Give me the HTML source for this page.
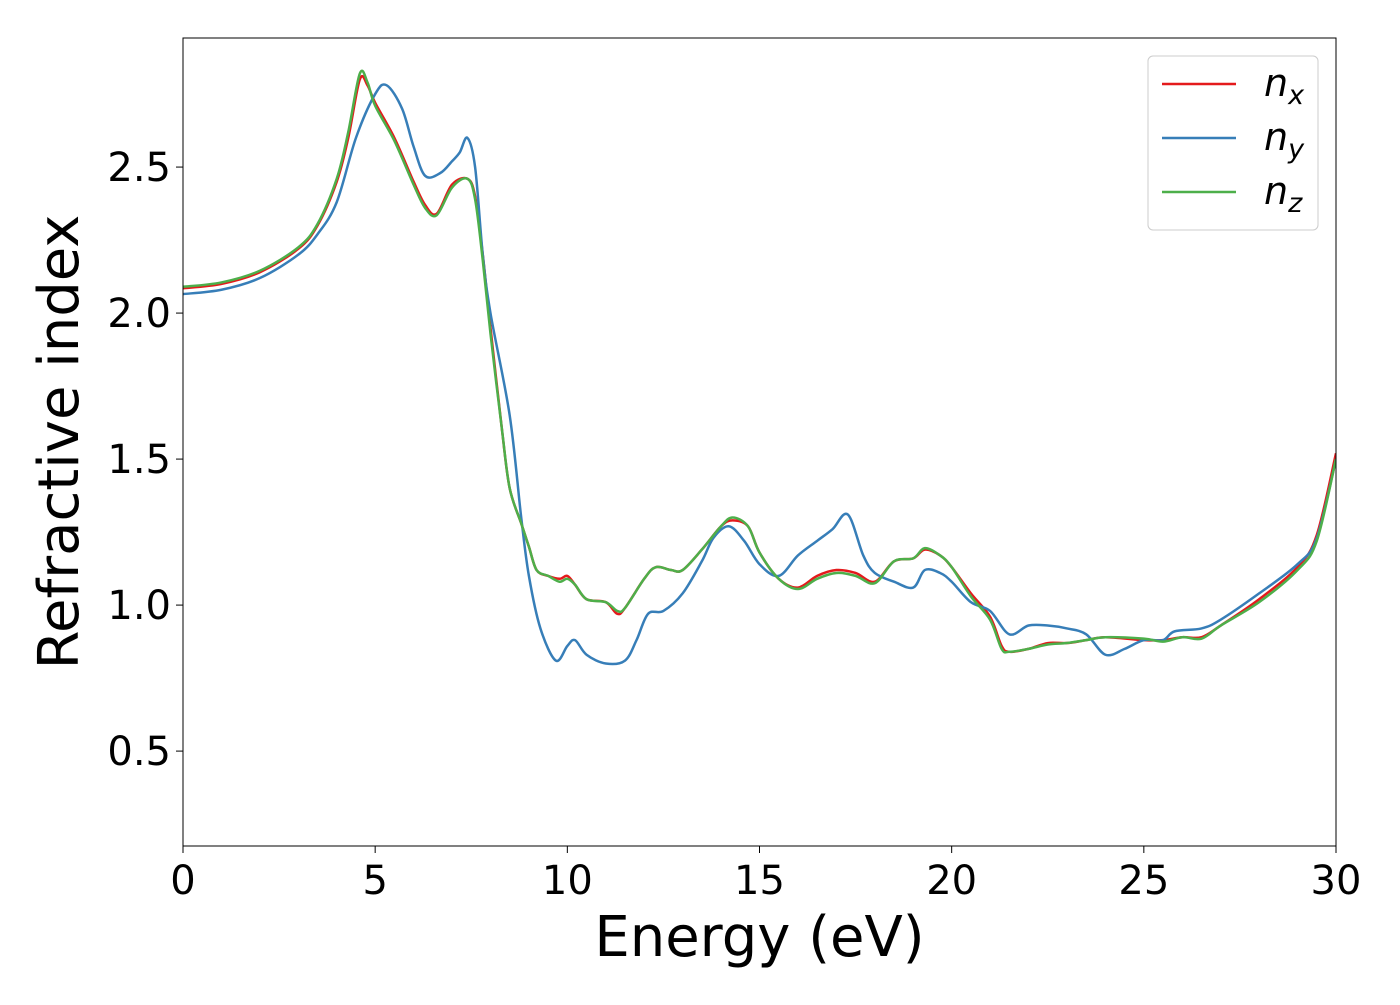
<!DOCTYPE html>
<html><head><meta charset="utf-8"><style>
body{margin:0;background:#fff;}
svg text{font-family:"DejaVu Sans","Liberation Sans",sans-serif;fill:#000;}
</style></head><body>
<svg id="chart" width="1400" height="1000" xmlns="http://www.w3.org/2000/svg">
<g id="plot"></g>
</svg>
<script>
const xsX=[0,1,2,3,3.5,4,4.3,4.6,4.8,5,5.5,6,6.3,6.6,7,7.4,7.6,7.8,8,8.3,8.5,8.8,9,9.2,9.5,9.8,10,10.2,10.5,11,11.3,11.5,12,12.3,12.7,13,13.5,14,14.3,14.7,15,15.5,16,16.5,17,17.5,18,18.5,19,19.3,19.7,20,20.5,21,21.3,21.5,22,22.5,23,23.5,24,25,25.5,26,26.5,27,28,29,29.5,30];
const nxVals=[2.085,2.10,2.14,2.22,2.30,2.45,2.6,2.8,2.78,2.72,2.6,2.45,2.37,2.34,2.44,2.46,2.4,2.2,1.95,1.6,1.4,1.28,1.2,1.12,1.1,1.09,1.1,1.07,1.02,1.01,0.97,0.99,1.09,1.13,1.12,1.12,1.19,1.27,1.29,1.27,1.18,1.09,1.06,1.10,1.12,1.11,1.08,1.15,1.16,1.19,1.17,1.13,1.04,0.96,0.86,0.84,0.85,0.87,0.87,0.88,0.89,0.88,0.88,0.89,0.89,0.93,1.02,1.13,1.24,1.52];
const nzVals=[2.09,2.105,2.145,2.225,2.305,2.46,2.62,2.82,2.79,2.71,2.59,2.44,2.36,2.335,2.43,2.46,2.39,2.18,1.93,1.6,1.4,1.28,1.2,1.12,1.1,1.08,1.09,1.07,1.02,1.01,0.98,0.99,1.09,1.13,1.12,1.12,1.19,1.27,1.30,1.27,1.18,1.09,1.055,1.09,1.11,1.10,1.075,1.15,1.16,1.195,1.17,1.13,1.03,0.95,0.85,0.84,0.85,0.865,0.87,0.88,0.89,0.885,0.875,0.89,0.885,0.93,1.01,1.12,1.22,1.50];
const xsY=[0,1,2,3,3.5,4,4.5,5,5.3,5.7,6,6.3,6.7,7,7.2,7.4,7.6,7.8,8,8.5,8.8,9,9.3,9.7,10,10.2,10.5,11,11.5,11.8,12.1,12.5,13,13.5,13.8,14.2,14.6,15,15.5,16,16.5,16.9,17.3,17.7,18,18.5,19,19.3,19.7,20,20.5,21,21.5,22,22.5,23,23.5,24,24.5,25,25.5,25.8,26.5,27,28,29,29.5,30];
const nyVals=[2.065,2.08,2.12,2.2,2.27,2.38,2.6,2.75,2.78,2.7,2.57,2.47,2.48,2.52,2.55,2.6,2.5,2.2,2.0,1.65,1.3,1.1,0.92,0.81,0.86,0.88,0.83,0.80,0.81,0.88,0.97,0.98,1.04,1.15,1.23,1.27,1.22,1.14,1.1,1.17,1.22,1.26,1.31,1.17,1.11,1.08,1.06,1.12,1.11,1.08,1.01,0.98,0.90,0.93,0.93,0.92,0.90,0.83,0.85,0.88,0.88,0.91,0.92,0.95,1.04,1.14,1.23,1.5];
const xTicks=[0,5,10,15,20,25,30];
const yTicks=[0.5,1.0,1.5,2.0,2.5];
const L=183,R=1336,T=38,B=846;
const sx=v=>L+(v-0)*(R-L)/30;
const sy=v=>B-(v-0.175)*(B-T)/(2.942-0.175);
const NS="http://www.w3.org/2000/svg";
const g=document.getElementById('plot');
function el(tag,attrs,parent){const e=document.createElementNS(NS,tag);for(const k in attrs)e.setAttribute(k,attrs[k]);(parent||g).appendChild(e);return e;}
function path(xs,ys){const p=xs.map((x,i)=>[sx(x),sy(ys[i])]);let d='M'+p[0][0]+','+p[0][1];
for(let i=0;i<p.length-1;i++){const p0=p[Math.max(0,i-1)],p1=p[i],p2=p[i+1],p3=p[Math.min(p.length-1,i+2)];
const c1=[p1[0]+(p2[0]-p0[0])/6,p1[1]+(p2[1]-p0[1])/6],c2=[p2[0]-(p3[0]-p1[0])/6,p2[1]-(p3[1]-p1[1])/6];
d+=` C${c1[0]},${c1[1]} ${c2[0]},${c2[1]} ${p2[0]},${p2[1]}`;}return d;}
const clip=el('clipPath',{id:'c'});el('rect',{x:L,y:T,width:R-L,height:B-T},clip);
const series=[[xsX,nxVals,'#e41a1c','series-nx'],[xsY,nyVals,'#377eb8','series-ny'],[xsX,nzVals,'#4daf4a','series-nz']];
series.forEach(s=>{const e=el('path',{d:path(s[0],s[1]),fill:'none',stroke:s[2],'stroke-width':2.5,'clip-path':'url(#c)'});

});
const frame=el('rect',{x:L,y:T,width:R-L,height:B-T,fill:'none',stroke:'#000','stroke-width':1});


xTicks.forEach(v=>{el('line',{x1:sx(v),x2:sx(v),y1:B,y2:B+7,stroke:'#000'});
const t=el('text',{x:sx(v),y:B+48,'text-anchor':'middle','font-size':40});t.textContent=v;

});
yTicks.forEach(v=>{el('line',{x1:L-7,x2:L,y1:sy(v),y2:sy(v),stroke:'#000'});
const t=el('text',{x:L-12,y:sy(v)+14,'text-anchor':'end','font-size':40});t.textContent=v.toFixed(1);

});
const xt=el('text',{x:(L+R)/2,y:956,'text-anchor':'middle','font-size':56});xt.textContent='Energy (eV)';


const yt=el('text',{x:0,y:0,'text-anchor':'middle','font-size':56,transform:`translate(78,${(T+B)/2}) rotate(-90)`});yt.textContent='Refractive index';


const lg=el('g',{});


el('rect',{x:1148,y:56,width:170,height:174,rx:5,fill:'#fff',stroke:'#ccc'},lg);
[['x','#e41a1c'],['y','#377eb8'],['z','#4daf4a']].forEach((s,i)=>{const y=84+i*54;
el('line',{x1:1162,x2:1236,y1:y,y2:y,stroke:s[1],'stroke-width':2.5},lg);
const t=el('text',{x:1264,y:y+12,'font-size':38,'font-style':'italic'},lg);
t.innerHTML=`n<tspan font-size="27" dy="8">${s[0]}</tspan>`;

});
</script>
</body></html>
